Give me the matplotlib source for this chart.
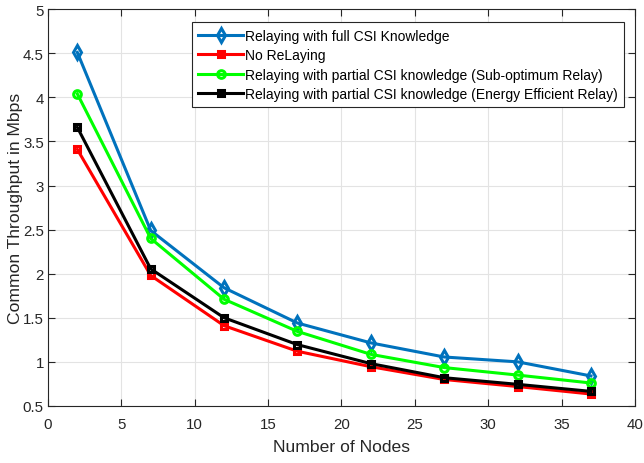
import matplotlib
matplotlib.use("Agg")
import matplotlib.pyplot as plt

plt.rcParams['font.family'] = ['Liberation Sans', 'DejaVu Sans']

nodes = [2, 7, 12, 17, 22, 27, 32, 37]
full_csi = [4.51, 2.49, 1.84, 1.44, 1.215, 1.055, 1.0, 0.84]
no_relay = [3.41, 1.98, 1.41, 1.12, 0.945, 0.80, 0.72, 0.635]
partial_sub = [4.04, 2.40, 1.71, 1.345, 1.085, 0.935, 0.85, 0.76]
partial_ee = [3.66, 2.055, 1.50, 1.195, 0.98, 0.82, 0.745, 0.665]

labels = ["Relaying with full CSI Knowledge",
          "No ReLaying",
          "Relaying with partial CSI knowledge (Sub-optimum Relay)",
          "Relaying with partial CSI knowledge (Energy Efficient Relay)"]
xticks = [0, 5, 10, 15, 20, 25, 30, 35, 40]
yticks = [0.5, 1, 1.5, 2, 2.5, 3, 3.5, 4, 4.5, 5]

fig = plt.figure(figsize=(6.44, 4.64), dpi=100)
ax = fig.add_axes([0.0745, 0.123, 0.9115, 0.855])

tc = '#262626'
common = dict(lw=2.2, mfc='none', mew=2.2)
ax.plot(nodes, full_csi, color='#0072BD', marker='d', ms=7.5, label=labels[0], **common)
ax.plot(nodes, no_relay, color='#FF0000', marker='s', ms=5, label=labels[1], **common)
ax.plot(nodes, partial_sub, color='#00FF00', marker='o', ms=5.5, label=labels[2], **common)
ax.plot(nodes, partial_ee, color='#000000', marker='s', ms=5, label=labels[3], **common)

ax.set_xlim(0, 40)
ax.set_ylim(0.5, 5)
ax.set_xticks(xticks)
ax.set_yticks(yticks)
ax.set_xticklabels([str(t) for t in xticks])
ax.set_yticklabels(['%g' % t for t in yticks])
ax.grid(True, color='#e3e3e3', lw=0.8)
ax.set_axisbelow(True)
ax.tick_params(direction='in', top=True, right=True, labelsize=10.8, colors=tc, length=5, width=0.8)
ax.tick_params(axis='x', pad=8)
ax.tick_params(axis='y', pad=3)
for s in ax.spines.values():
    s.set_color(tc)
    s.set_linewidth(0.8)
ax.set_xlabel("Number of Nodes", fontsize=12.6, color=tc)
ax.set_ylabel("Common Throughput in Mbps", fontsize=12.6, color=tc)
ax.xaxis.set_label_coords(0.5, -0.083)
ax.yaxis.set_label_coords(-0.042, 0.5)

leg = ax.legend(loc='upper right', bbox_to_anchor=(1.0, 0.995), fontsize=10.0,
                frameon=True, fancybox=False, edgecolor=tc, framealpha=1,
                handlelength=3.2, handletextpad=0.15, labelspacing=0.4,
                borderpad=0.45, borderaxespad=0.8)
leg.get_frame().set_linewidth(0.8)
for t in leg.get_texts():
    t.set_color('black')

fig.savefig("out.png", dpi=100)
